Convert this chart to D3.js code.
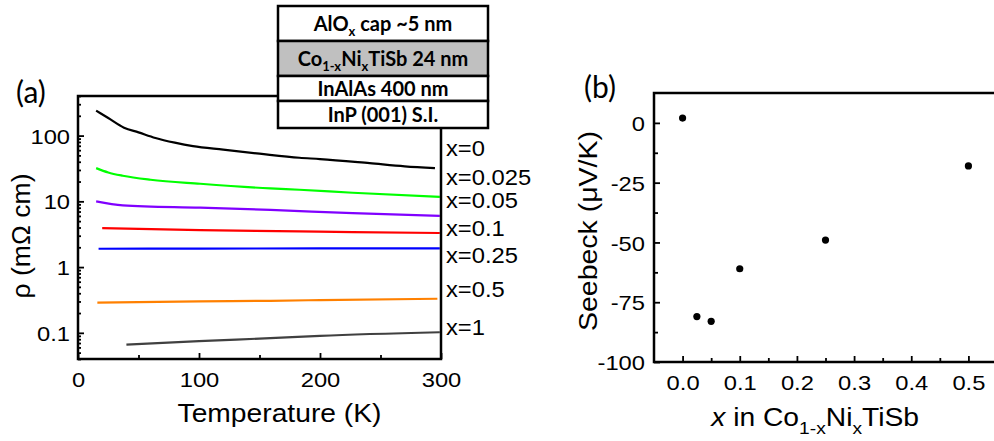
<!DOCTYPE html>
<html>
<head>
<meta charset="utf-8">
<script src="https://cdn.jsdelivr.net/npm/d3@7"></script>
<style>
body { margin: 0; background: #fff; }
svg text { font-family: "Liberation Sans", Arial, sans-serif; fill: #000; }
.stretch { transform-box: fill-box; transform-origin: center; transform: scaleX(1.13); }
.stretchR { transform-box: fill-box; transform-origin: right center; transform: scaleX(1.13); }
.stretchL { transform-box: fill-box; transform-origin: left center; transform: scaleX(1.08); }
.box text { font-family: Lato, "Open Sans", sans-serif; font-weight: bold; }
</style>
</head>
<body>
<div id="chart"></div>
<script>
// ---- data: panel (a), resistivity vs temperature ----
const compositions = ["x=0", "x=0.025", "x=0.05", "x=0.1", "x=0.25", "x=0.5", "x=1"];
const lineColors = ["#000000", "#00ff00", "#8000ff", "#ff0000", "#0000ff", "#ff8000", "#404040"];

const tempX0 = [15, 25, 38, 50, 64, 80, 95, 120, 150, 183, 200, 241, 270, 295];
const rhoX0 = [240, 185, 132, 112, 92, 78, 69, 61, 53, 46, 44, 38, 34, 32];
const tempX0025 = [15, 25, 37, 60, 101, 159, 183, 227, 299];
const rhoX0025 = [32, 27.5, 24.5, 21.3, 18.5, 15.7, 15, 13.5, 11.7];
const tempX005 = [15, 37, 101, 159, 227, 299];
const rhoX005 = [10, 8.7, 8.0, 7.4, 6.6, 6.0];
const tempX01 = [20, 101, 183, 227, 299];
const rhoX01 = [3.9, 3.65, 3.5, 3.4, 3.3];
const tempX025 = [17, 100, 200, 299];
const rhoX025 = [1.9, 1.91, 1.92, 1.92];
const tempX05 = [16, 100, 159, 200, 297];
const rhoX05 = [0.288, 0.3, 0.307, 0.315, 0.33];
const tempX1 = [40, 100, 159, 200, 299];
const rhoX1 = [0.066, 0.075, 0.083, 0.09, 0.102];

const tempTicks = [0, 100, 200, 300];
const rhoTicks = [0.1, 1, 10, 100];

// ---- data: panel (b), Seebeck vs composition ----
const nickelX = [0, 0.025, 0.05, 0.1, 0.25, 0.5];
const seebeck = [2, -81, -83, -61, -49, -18];
const nickelTicks = [0, 0.1, 0.2, 0.3, 0.4, 0.5];
const seebeckTicks = [0, -25, -50, -75, -100];

// label layout (pixel y of each composition label)
const labelY = [156, 185, 208, 236, 263, 297, 335];

const series = [
  [tempX0, rhoX0], [tempX0025, rhoX0025], [tempX005, rhoX005], [tempX01, rhoX01],
  [tempX025, rhoX025], [tempX05, rhoX05], [tempX1, rhoX1]
].map((s, i) => ({
  name: compositions[i], color: lineColors[i],
  values: s[0].map((t, j) => ({ t: t, r: s[1][j] }))
}));

const width = 994, height = 441;
const svg = d3.select("#chart").append("svg")
  .attr("width", width).attr("height", height);

// ================= panel (a) =================
const ax = { left: 78, right: 441, top: 96, bottom: 359 };
const x = d3.scaleLinear().domain([0, 300]).range([ax.left, ax.right]);
const y = d3.scaleLog().domain([0.04, 400]).range([ax.bottom, ax.top]);

const minorRho = [];
[0.01, 0.1, 1, 10, 100].forEach(d => {
  for (let k = 2; k <= 9; k++) {
    const v = d * k;
    if (v >= 0.04 && v <= 400) minorRho.push(v);
  }
});

svg.append("g").attr("transform", `translate(${ax.left},0)`)
  .call(d3.axisLeft(y).tickValues(minorRho).tickFormat("").tickSize(-3).tickSizeOuter(0))
  .call(g => g.select(".domain").remove());
const yAxisA = svg.append("g").attr("transform", `translate(${ax.left},0)`)
  .call(d3.axisLeft(y).tickValues(rhoTicks).tickFormat(d => String(d)).tickSize(-6).tickPadding(8).tickSizeOuter(0));
yAxisA.select(".domain").remove();
yAxisA.selectAll("text").attr("class", "stretchR").style("font-size", "21px").attr("dy", "0.36em");

svg.append("g").attr("transform", `translate(0,${ax.bottom})`)
  .call(d3.axisBottom(x).tickValues([50, 150, 250]).tickFormat("").tickSize(-4).tickSizeOuter(0))
  .call(g => g.select(".domain").remove());
const xAxisA = svg.append("g").attr("transform", `translate(0,${ax.bottom})`)
  .call(d3.axisBottom(x).tickValues(tempTicks).tickFormat(d => String(d)).tickSize(-6).tickPadding(13).tickSizeOuter(0));
xAxisA.select(".domain").remove();
xAxisA.selectAll("text").attr("class", "stretch").style("font-size", "21px");

const line = d3.line().x(d => x(d.t)).y(d => y(d.r)).curve(d3.curveMonotoneX);
svg.append("g").selectAll("path").data(series).enter().append("path")
  .attr("d", d => line(d.values))
  .attr("fill", "none")
  .attr("stroke", d => d.color)
  .attr("stroke-width", 2.2);

svg.append("rect")
  .attr("x", ax.left).attr("y", ax.top)
  .attr("width", ax.right - ax.left).attr("height", ax.bottom - ax.top)
  .attr("fill", "none").attr("stroke", "#000").attr("stroke-width", 2.5);

svg.append("g").selectAll("text").data(compositions).enter().append("text")
  .attr("class", "stretchL")
  .attr("x", 446).attr("y", (d, i) => labelY[i])
  .style("font-size", "22px")
  .text(d => d);

svg.append("text").attr("class", "stretch")
  .attr("x", (ax.left + ax.right) / 2 + 20).attr("y", 422)
  .attr("text-anchor", "middle").style("font-size", "25px")
  .text("Temperature (K)");

svg.append("text")
  .attr("transform", "translate(30,236) rotate(-90)")
  .attr("text-anchor", "middle").style("font-size", "25px")
  .attr("textLength", 125).attr("lengthAdjust", "spacingAndGlyphs")
  .text("\u03c1 (m\u03a9 cm)");

svg.append("text").attr("x", 16).attr("y", 103)
  .style("font-family", "Lato, 'Open Sans', sans-serif").style("font-size", "30px")
  .text("(a)");

// layer stack box
const boxRows = [
  { top: 6, bottom: 41, fill: "#fff" },
  { top: 41, bottom: 76, fill: "#c0c0c0" },
  { top: 76, bottom: 101, fill: "#fff" },
  { top: 101, bottom: 128, fill: "#fff" }
];
const box = svg.append("g").attr("class", "box");
box.selectAll("rect").data(boxRows).enter().append("rect")
  .attr("x", 278).attr("width", 210)
  .attr("y", d => d.top).attr("height", d => d.bottom - d.top)
  .attr("fill", d => d.fill).attr("stroke", "#000").attr("stroke-width", 2.5);

function rowText(i) {
  return box.append("text").attr("x", 383)
    .attr("y", (boxRows[i].top + boxRows[i].bottom) / 2 + 7)
    .attr("text-anchor", "middle").style("font-size", "20px");
}
let t1 = rowText(0);
t1.append("tspan").text("AlO");
t1.append("tspan").attr("dy", 5).style("font-size", "13px").text("x");
t1.append("tspan").attr("dy", -5).text(" cap ~5 nm");
let t2 = rowText(1);
t2.append("tspan").text("Co");
t2.append("tspan").attr("dy", 5).style("font-size", "13px").text("1-x");
t2.append("tspan").attr("dy", -5).text("Ni");
t2.append("tspan").attr("dy", 5).style("font-size", "13px").text("x");
t2.append("tspan").attr("dy", -5).text("TiSb 24 nm");
rowText(2).text("InAlAs 400 nm");
rowText(3).text("InP (001) S.I.");

// ================= panel (b) =================
const bx = { left: 654, right: 997, top: 93, bottom: 362 };
const xb = d3.scaleLinear().domain([-0.05, 0.55]).range([bx.left, bx.right]);
const yb = d3.scaleLinear().domain([-100, 12.5]).range([bx.bottom, bx.top]);

svg.append("g").attr("transform", `translate(${bx.left},0)`)
  .call(d3.axisLeft(yb).tickValues([-87.5, -62.5, -37.5, -12.5]).tickFormat("").tickSize(-4).tickSizeOuter(0))
  .call(g => g.select(".domain").remove());
const yAxisB = svg.append("g").attr("transform", `translate(${bx.left},0)`)
  .call(d3.axisLeft(yb).tickValues(seebeckTicks).tickFormat(d => String(d)).tickSize(-6).tickPadding(9).tickSizeOuter(0));
yAxisB.select(".domain").remove();
yAxisB.selectAll("text").attr("class", "stretchR").style("font-size", "21px").attr("dy", "0.36em");

svg.append("g").attr("transform", `translate(0,${bx.bottom})`)
  .call(d3.axisBottom(xb).tickValues([0.05, 0.15, 0.25, 0.35, 0.45]).tickFormat("").tickSize(-4).tickSizeOuter(0))
  .call(g => g.select(".domain").remove());
const xAxisB = svg.append("g").attr("transform", `translate(0,${bx.bottom})`)
  .call(d3.axisBottom(xb).tickValues(nickelTicks).tickFormat(d3.format(".1f")).tickSize(-6).tickPadding(13).tickSizeOuter(0));
xAxisB.select(".domain").remove();
xAxisB.selectAll("text").attr("class", "stretch").style("font-size", "21px");
svg.selectAll(".tick line").attr("stroke-width", 1.8);

svg.append("rect")
  .attr("x", bx.left).attr("y", bx.top)
  .attr("width", bx.right - bx.left).attr("height", bx.bottom - bx.top)
  .attr("fill", "none").attr("stroke", "#000").attr("stroke-width", 2.5);

svg.append("g").selectAll("circle").data(nickelX).enter().append("circle")
  .attr("cx", d => xb(d))
  .attr("cy", (d, i) => yb(seebeck[i]))
  .attr("r", 3.6)
  .attr("fill", "#000");

const xt = svg.append("text").attr("class", "stretch")
  .attr("x", 815).attr("y", 426)
  .attr("text-anchor", "middle").style("font-size", "25px");
xt.append("tspan").style("font-style", "italic").text("x");
xt.append("tspan").text(" in Co");
xt.append("tspan").attr("dy", 8).style("font-size", "17px").text("1-x");
xt.append("tspan").attr("dy", -8).text("Ni");
xt.append("tspan").attr("dy", 8).style("font-size", "17px").text("x");
xt.append("tspan").attr("dy", -8).text("TiSb");

svg.append("text")
  .attr("transform", "translate(597,231) rotate(-90)")
  .attr("text-anchor", "middle").style("font-size", "26px")
  .attr("textLength", 200).attr("lengthAdjust", "spacingAndGlyphs")
  .text("Seebeck (\u03bcV/K)");

svg.append("text").attr("x", 584).attr("y", 98)
  .style("font-family", "Lato, 'Open Sans', sans-serif").style("font-size", "30px")
  .text("(b)");
</script>
</body>
</html>
